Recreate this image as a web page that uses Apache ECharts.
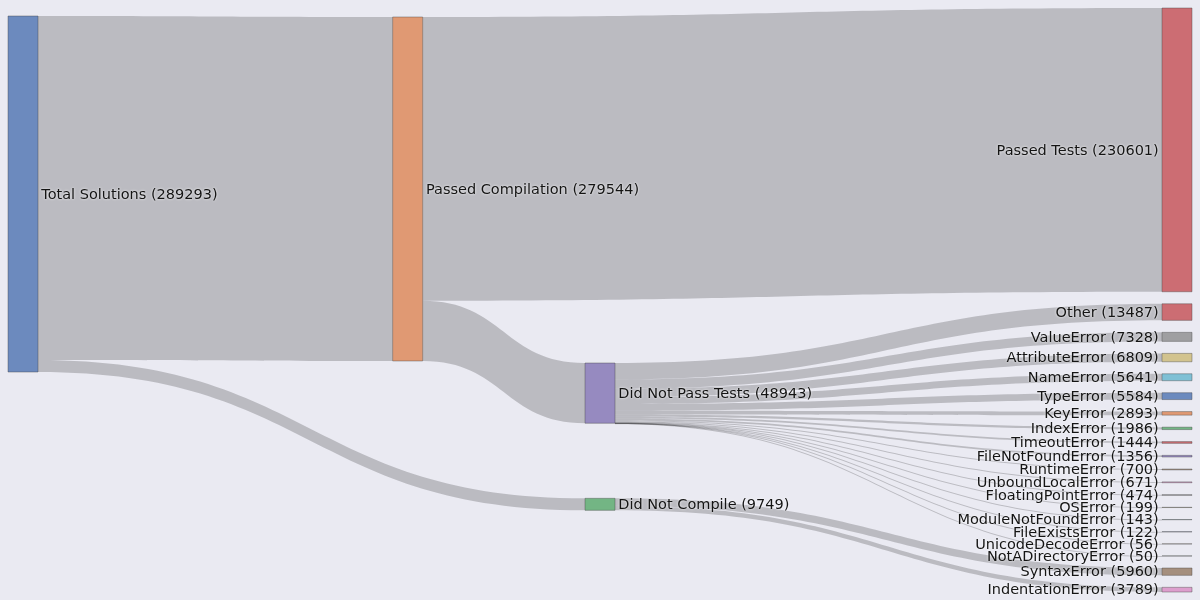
<!DOCTYPE html>
<html><head><meta charset="utf-8">
<script src="https://cdn.jsdelivr.net/npm/echarts@6/dist/echarts.min.js"></script>
<style>html,body{margin:0;padding:0;background:#EAEAF2}#c{width:1200px;height:600px}</style>
</head><body><div id="c"></div>
<script>
// Node names (order used for colour cycling)
const nodeNames = ["Total Solutions","Passed Compilation","Did Not Compile","Passed Tests","Did Not Pass Tests",
  "SyntaxError","IndentationError","ValueError","AttributeError","NameError","TypeError","KeyError","IndexError",
  "TimeoutError","FileNotFoundError","RuntimeError","UnboundLocalError","FloatingPointError","OSError",
  "ModuleNotFoundError","FileExistsError","UnicodeDecodeError","NotADirectoryError","Other"];
// Display order within columns
const displayOrder = ["Total Solutions","Passed Compilation","Did Not Pass Tests","Did Not Compile","Passed Tests","Other",
  "ValueError","AttributeError","NameError","TypeError","KeyError","IndexError","TimeoutError","FileNotFoundError",
  "RuntimeError","UnboundLocalError","FloatingPointError","OSError","ModuleNotFoundError","FileExistsError",
  "UnicodeDecodeError","NotADirectoryError","SyntaxError","IndentationError"];
const linkSources = ["Total Solutions","Total Solutions","Passed Compilation","Passed Compilation",
  "Did Not Pass Tests","Did Not Pass Tests","Did Not Pass Tests","Did Not Pass Tests","Did Not Pass Tests",
  "Did Not Pass Tests","Did Not Pass Tests","Did Not Pass Tests","Did Not Pass Tests","Did Not Pass Tests",
  "Did Not Pass Tests","Did Not Pass Tests","Did Not Pass Tests","Did Not Pass Tests","Did Not Pass Tests",
  "Did Not Pass Tests","Did Not Pass Tests","Did Not Compile","Did Not Compile"];
const linkTargets = ["Passed Compilation","Did Not Compile","Passed Tests","Did Not Pass Tests",
  "Other","ValueError","AttributeError","NameError","TypeError","KeyError","IndexError","TimeoutError",
  "FileNotFoundError","RuntimeError","UnboundLocalError","FloatingPointError","OSError","ModuleNotFoundError",
  "FileExistsError","UnicodeDecodeError","NotADirectoryError","SyntaxError","IndentationError"];
const linkValues = [279544,9749,230601,48943,
  13487,7328,6809,5641,5584,2893,1986,1444,1356,700,671,474,199,143,122,56,50,5960,3789];

// Layout configuration (column depth and vertical placement hints, fraction of series height)
const nodeDepthByName = {"Total Solutions":0, "Passed Compilation":2, "Did Not Pass Tests":3, "Did Not Compile":3};
const nodeLocalY = {"Total Solutions":0.0137, "Passed Compilation":0.0154, "Did Not Pass Tests":0.6079, "Did Not Compile":0.8396};
const palette = ["rgb(76,114,176)","rgb(221,132,82)","rgb(85,168,104)","rgb(196,78,82)","rgb(129,114,179)",
  "rgb(147,120,96)","rgb(218,139,195)","rgb(140,140,140)","rgb(204,185,116)","rgb(100,181,205)"];

const totals = {};
nodeNames.forEach(n => totals[n] = 0);
linkTargets.forEach((t, i) => totals[t] += linkValues[i]);
linkSources.forEach((s, i) => { if (s === "Total Solutions") totals[s] += linkValues[i]; });

const nodes = displayOrder.map(name => {
  const idx = nodeNames.indexOf(name);
  const n = {
    name: name,
    depth: name in nodeDepthByName ? nodeDepthByName[name] : 6,
    itemStyle: {color: palette[idx % palette.length], opacity: 0.8, borderColor: '#444', borderWidth: 0.5}
  };
  if (name in nodeLocalY) n.localY = nodeLocalY[name];
  return n;
});
const links = linkSources.map((s, i) => ({source: s, target: linkTargets[i], value: linkValues[i]}));

const chart = echarts.init(document.getElementById('c'), null, {renderer: 'canvas'});
chart.setOption({
  backgroundColor: '#EAEAF2',
  animation: false,
  series: [{
    type: 'sankey',
    left: 8, right: 8, top: 8, bottom: 8,
    nodeWidth: 30,
    nodeGap: 12,
    nodeAlign: 'left',
    layoutIterations: 512,
    draggable: false,
    data: nodes,
    links: links,
    emphasis: {disabled: true},
    lineStyle: {color: '#000', opacity: 0.2, curveness: 0.5},
    label: {
      position: 'right', distance: 3, offset: [0, 1],
      fontFamily: 'DejaVu Sans', fontSize: 14.5, color: '#141414',
      textShadowColor: '#ffffff', textShadowBlur: 2.5,
      formatter: p => p.name + ' (' + totals[p.name] + ')'
    },
    levels: [{depth: 6, label: {position: 'left'}}]
  }]
});
</script></body></html>
